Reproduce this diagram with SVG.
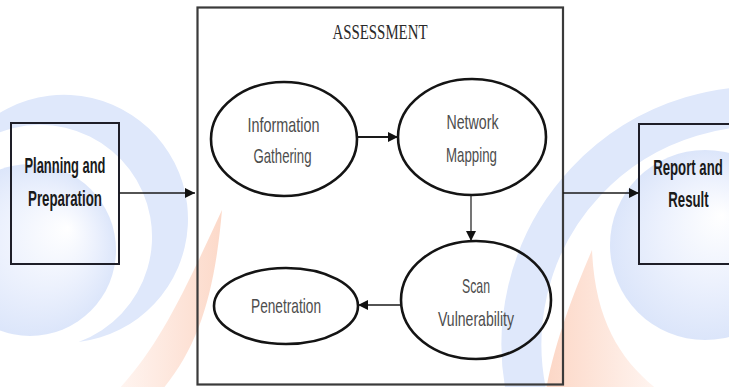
<svg xmlns="http://www.w3.org/2000/svg" width="729" height="387" viewBox="0 0 729 387">
  <defs>
    <style>
      .box { fill: none; stroke: #1e1e28; stroke-width: 2; }
      .frame { fill: none; stroke: #3a3a3a; stroke-width: 2.2; }
      .oval { fill: none; stroke: #141414; stroke-width: 2.6; }
      .lbl { font-family: "Liberation Sans", Arial, sans-serif; font-size: 21px; fill: #4d4d4d; text-anchor: middle; }
      .blbl { font-family: "Liberation Sans", Arial, sans-serif; font-size: 22px; font-weight: bold; fill: #1a1a1a; text-anchor: middle; }
      .title { font-family: "Liberation Serif", "Times New Roman", serif; font-size: 22px; fill: #2a2a2a; text-anchor: middle; }
      .edge { fill: none; stroke: #1a1a1a; stroke-width: 1.6; marker-end: url(#ah); }
      .wm-blue { fill: #dfe8fb; }
    </style>
    <marker id="ah" viewBox="0 0 10 10" refX="10" refY="5" markerWidth="10" markerHeight="10" markerUnits="userSpaceOnUse" orient="auto">
      <path d="M0,0 L10,5 L0,10 Z" fill="#111"/>
    </marker>
    <radialGradient id="discL" gradientUnits="userSpaceOnUse" cx="30" cy="250" r="88" fx="68" fy="228">
      <stop offset="0" stop-color="#ffffff"/>
      <stop offset="0.55" stop-color="#ecf1fd"/>
      <stop offset="1" stop-color="#dbe5fa"/>
    </radialGradient>
    <radialGradient id="discR" gradientUnits="userSpaceOnUse" cx="705" cy="245" r="96" fx="722" fy="215">
      <stop offset="0" stop-color="#ffffff"/>
      <stop offset="0.55" stop-color="#ecf1fd"/>
      <stop offset="1" stop-color="#dbe5fa"/>
    </radialGradient>
    <linearGradient id="swL" x1="0" y1="0" x2="1" y2="0">
      <stop offset="0" stop-color="#fff5f1"/>
      <stop offset="1" stop-color="#fcd9c9"/>
    </linearGradient>
    <linearGradient id="swR" x1="0" y1="0" x2="1" y2="0">
      <stop offset="0" stop-color="#fcd7c6"/>
      <stop offset="1" stop-color="#fff5f1"/>
    </linearGradient>
  </defs>

  <rect width="729" height="387" fill="#ffffff"/>

  <!-- faint background logo marks -->
  <g id="watermark">
    <path class="wm-blue" d="M78.6,342 A124,124 0 1 0 -50.2,170.5 A112,112 0 1 1 78.6,342 Z"/>
    <circle cx="30" cy="250" r="86" fill="url(#discL)"/>
    <path d="M528,400 A238,238 0 0 1 800,110" fill="none" stroke="#dfe8fb" stroke-width="40"/>
    <circle cx="705" cy="245" r="95" fill="url(#discR)"/>
    <path d="M222,210 C215,290 200,345 162,390 L118,390 C160,345 185,290 222,210 Z" fill="url(#swL)"/>
    <path d="M592,250 C575,290 555,340 546,390 L658,390 C620,360 595,320 592,250 Z" fill="url(#swR)"/>
  </g>

  <g id="planning">
    <rect class="box" x="11" y="123" width="108" height="141"/>
    <text class="blbl" x="65" y="173" textLength="81" lengthAdjust="spacingAndGlyphs">Planning and</text>
    <text class="blbl" x="65" y="206" textLength="74" lengthAdjust="spacingAndGlyphs">Preparation</text>
  </g>

  <g id="assessment">
    <rect class="frame" x="197.5" y="7.5" width="365.5" height="377"/>
    <text class="title" x="380" y="39" textLength="95" lengthAdjust="spacingAndGlyphs">ASSESSMENT</text>
  </g>

  <g id="info-gathering">
    <ellipse class="oval" cx="284" cy="139" rx="73" ry="57"/>
    <text class="lbl" x="283.5" y="132" textLength="72" lengthAdjust="spacingAndGlyphs">Information</text>
    <text class="lbl" x="282.5" y="163" textLength="58" lengthAdjust="spacingAndGlyphs">Gathering</text>
  </g>

  <g id="network-mapping">
    <ellipse class="oval" cx="472" cy="137" rx="74" ry="58"/>
    <text class="lbl" x="472.5" y="129" textLength="52" lengthAdjust="spacingAndGlyphs">Network</text>
    <text class="lbl" x="471.5" y="162" textLength="51" lengthAdjust="spacingAndGlyphs">Mapping</text>
  </g>

  <g id="scan-vulnerability">
    <ellipse class="oval" cx="476" cy="300" rx="75" ry="59"/>
    <text class="lbl" x="476" y="293" textLength="28" lengthAdjust="spacingAndGlyphs">Scan</text>
    <text class="lbl" x="476" y="326" textLength="76" lengthAdjust="spacingAndGlyphs">Vulnerability</text>
  </g>

  <g id="penetration">
    <ellipse class="oval" cx="286" cy="306" rx="72" ry="38"/>
    <text class="lbl" x="286" y="313" textLength="70" lengthAdjust="spacingAndGlyphs">Penetration</text>
  </g>

  <g id="report">
    <!-- box runs past the right edge, so only three sides are drawn -->
    <path class="box" d="M729,124 H639 V264 H729"/>
    <!-- narrow labels: squeezed horizontally with a transform -->
    <text class="blbl" transform="translate(688,175) scale(0.6,1)" x="0" y="0">Report and</text>
    <text class="blbl" transform="translate(688.5,207) scale(0.6,1)" x="0" y="0">Result</text>
  </g>

  <g id="connectors">
    <line class="edge" x1="119" y1="193" x2="195" y2="193"/>
    <line class="edge" x1="563" y1="193" x2="639" y2="193"/>
    <line class="edge" x1="357" y1="137" x2="398" y2="137" style="stroke-width:2"/>
    <line class="edge" x1="471" y1="195" x2="471" y2="241" style="stroke-width:1.2"/>
    <line class="edge" x1="401" y1="305" x2="358" y2="305"/>
  </g>
</svg>
